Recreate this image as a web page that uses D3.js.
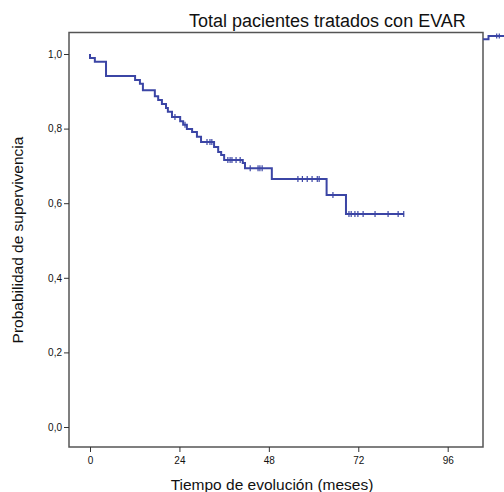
<!DOCTYPE html>
<html>
<head>
<meta charset="utf-8">
<script src="https://cdn.jsdelivr.net/npm/d3@7"></script>
<style>
  body { margin: 0; background: #fff; }
  text { font-family: "Liberation Sans", Arial, sans-serif; }
</style>
</head>
<body>
<div id="chart"></div>
<script>
// Kaplan-Meier steps (months, survival after the event)
var eventTimes = [0, 1.3, 4.3, 12.1, 13.4, 14.2, 17.4, 18.3, 19.3, 20.4, 20.9, 22.0, 24.2, 25.0,
    26.0, 27.4, 28.7, 29.8, 33.3, 34.4, 35.2, 36.0, 41.0, 41.6, 48.8, 63.5, 68.7];
var survival = [0.989, 0.979, 0.941, 0.930, 0.920, 0.903, 0.887, 0.877, 0.866, 0.855, 0.845, 0.831, 0.820, 0.810,
    0.799, 0.791, 0.778, 0.764, 0.751, 0.737, 0.729, 0.716, 0.708, 0.694, 0.665, 0.622, 0.571];
// censored cases (months)
var censorTimes = [22.8, 25.5, 31.4, 32.2, 32.7, 37.0, 37.6, 38.1, 39.2, 40.3, 43.0, 45.1, 45.6, 46.2,
    55.8, 57.0, 58.3, 59.6, 61.0, 61.5, 65.2, 69.5, 70.1, 71.1, 71.9, 73.3, 76.5, 80.0, 82.7, 84.2];
var lastTime = 84.3;
var xTicks = [0, 24, 48, 72, 96];
var yTicks = [0, 0.2, 0.4, 0.6, 0.8, 1.0];

function init() {
    var w = 504, h = 492;
    var frame = { left: 69, right: 483, top: 32.5, bottom: 447 };
    var blue = "#3b45a5";

    var svg = d3.select("#chart").append("svg")
        .attr("width", w)
        .attr("height", h);

    var xScale = d3.scaleLinear().domain([0, 96]).range([90, 447.7]);
    var yScale = d3.scaleLinear().domain([0, 1]).range([427, 54]);

    // frame
    svg.append("rect")
        .attr("x", frame.left)
        .attr("y", frame.top)
        .attr("width", frame.right - frame.left)
        .attr("height", frame.bottom - frame.top)
        .attr("fill", "none")
        .attr("stroke", "#555")
        .attr("stroke-width", 1.5);

    // axes
    var xAxis = d3.axisBottom(xScale).tickValues(xTicks).tickSize(5).tickPadding(5);
    var gx = svg.append("g")
        .attr("transform", `translate(0,${frame.bottom})`)
        .call(xAxis);
    gx.select(".domain").remove();
    gx.selectAll("line").attr("stroke", "#333");
    gx.selectAll("text").attr("font-size", "10px").attr("fill", "#111")
        .style("font-family", "'Liberation Sans', Arial, sans-serif");

    var yAxis = d3.axisLeft(yScale).tickValues(yTicks).tickSize(5).tickPadding(2)
        .tickFormat(d => d3.format(".1f")(d).replace(".", ","));
    var gy = svg.append("g")
        .attr("transform", `translate(${frame.left},0)`)
        .call(yAxis);
    gy.select(".domain").remove();
    gy.selectAll("line").attr("stroke", "#333");
    gy.selectAll("text").attr("font-size", "10px").attr("fill", "#111")
        .style("font-family", "'Liberation Sans', Arial, sans-serif");

    // survival curve
    var pts = [[0, 1]];
    eventTimes.forEach((t, i) => pts.push([t, survival[i]]));
    pts.push([lastTime, survival[survival.length - 1]]);

    var line = d3.line()
        .x(d => xScale(d[0]))
        .y(d => yScale(d[1]))
        .curve(d3.curveStepAfter);

    svg.append("path")
        .datum(pts)
        .attr("d", line)
        .attr("fill", "none")
        .attr("stroke", blue)
        .attr("stroke-width", 2);

    function survAt(t) {
        var s = 1;
        eventTimes.forEach((e, i) => { if (e <= t) s = survival[i]; });
        return s;
    }

    svg.selectAll("line.censor")
        .data(censorTimes)
        .enter()
        .append("line")
        .attr("class", "censor")
        .attr("x1", d => xScale(d))
        .attr("x2", d => xScale(d))
        .attr("y1", d => yScale(survAt(d)) - 3)
        .attr("y2", d => yScale(survAt(d)) + 3)
        .attr("stroke", blue)
        .attr("stroke-width", 1.2);

    // legend stub (cut off at the right edge)
    var lg = svg.append("g").attr("stroke", blue).attr("fill", "none");
    lg.append("path").attr("d", "M483,39.3H488.5V36H504").attr("stroke-width", 2);
    lg.append("path").attr("d", "M496.7,33.5V38.5M499.3,33.5V38.5").attr("stroke-width", 1.2);

    // title
    svg.append("text")
        .attr("x", 189)
        .attr("y", 26.5)
        .attr("font-size", "18px")
        .attr("fill", "#111")
        .text("Total pacientes tratados con EVAR");

    // axis labels
    svg.append("text")
        .attr("x", 272)
        .attr("y", 490)
        .attr("text-anchor", "middle")
        .attr("font-size", "15.5px")
        .attr("fill", "#111")
        .text("Tiempo de evolución (meses)");

    svg.append("text")
        .attr("transform", "rotate(-90)")
        .attr("x", -240)
        .attr("y", 23)
        .attr("text-anchor", "middle")
        .attr("font-size", "15.5px")
        .attr("fill", "#111")
        .text("Probabilidad de supervivencia");
}

window.onload = init;
</script>
</body>
</html>
